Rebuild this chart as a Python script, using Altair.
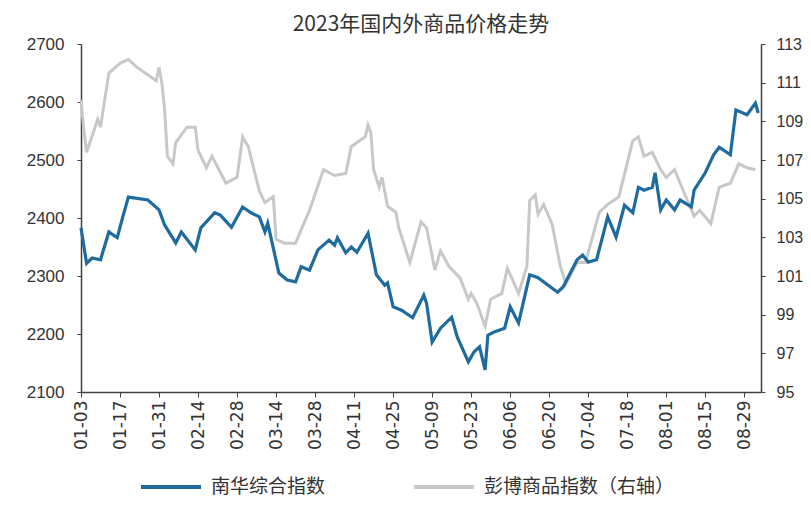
import altair as alt
import pandas as pd

title_text = "2023年国内外商品价格走势"
series_names = ["南华综合指数", "彭博商品指数（右轴）"]
series_colors = ["#1f6b9e", "#c8c8c8"]

# 南华综合指数 (left axis)
nanhua_dates = [
    "2023-01-03", "2023-01-05", "2023-01-07", "2023-01-10", "2023-01-13", "2023-01-16",
    "2023-01-18", "2023-01-20", "2023-01-27", "2023-01-31", "2023-02-02", "2023-02-06",
    "2023-02-08", "2023-02-13", "2023-02-15", "2023-02-20", "2023-02-22", "2023-02-26",
    "2023-03-02", "2023-03-05", "2023-03-08", "2023-03-10", "2023-03-11", "2023-03-15",
    "2023-03-18", "2023-03-21", "2023-03-23", "2023-03-26", "2023-03-29", "2023-04-02",
    "2023-04-04", "2023-04-05", "2023-04-08", "2023-04-10", "2023-04-12", "2023-04-16",
    "2023-04-19", "2023-04-22", "2023-04-23", "2023-04-25", "2023-04-28", "2023-05-02",
    "2023-05-06", "2023-05-07", "2023-05-09", "2023-05-12", "2023-05-16", "2023-05-18",
    "2023-05-22", "2023-05-24", "2023-05-26", "2023-05-28", "2023-05-29", "2023-05-31",
    "2023-06-04", "2023-06-06", "2023-06-09", "2023-06-13", "2023-06-16", "2023-06-23",
    "2023-06-25", "2023-06-30", "2023-07-02", "2023-07-04", "2023-07-07", "2023-07-11",
    "2023-07-14", "2023-07-17", "2023-07-20", "2023-07-22", "2023-07-24", "2023-07-27",
    "2023-07-28", "2023-07-30", "2023-08-01", "2023-08-04", "2023-08-06", "2023-08-10",
    "2023-08-11", "2023-08-15", "2023-08-18", "2023-08-20", "2023-08-24", "2023-08-26",
    "2023-08-30", "2023-09-02", "2023-09-03",
]
nanhua_values = [
    2383, 2322, 2331, 2328, 2376, 2366,
    2402, 2436, 2431, 2414, 2388, 2357,
    2376, 2345, 2383, 2409, 2405, 2384,
    2419, 2409, 2402, 2376, 2391, 2305,
    2293, 2290, 2316, 2310, 2345, 2362,
    2353, 2366, 2340, 2350, 2341, 2374,
    2302, 2284, 2288, 2247, 2241, 2228,
    2267, 2253, 2186, 2210, 2229, 2195,
    2152, 2169, 2178, 2138, 2198, 2203,
    2210, 2247, 2219, 2302, 2297, 2272,
    2281, 2328, 2336, 2324, 2328, 2402,
    2367, 2422, 2409, 2453, 2448, 2453,
    2478, 2414, 2431, 2414, 2431, 2419,
    2448, 2478, 2509, 2522, 2509, 2586,
    2578, 2598, 2581,
]

# 彭博商品指数 (right axis)
bcom_dates = [
    "2023-01-03", "2023-01-04", "2023-01-05", "2023-01-09", "2023-01-10", "2023-01-13",
    "2023-01-17", "2023-01-20", "2023-01-23", "2023-01-30", "2023-01-31", "2023-02-01",
    "2023-02-02", "2023-02-03", "2023-02-05", "2023-02-06", "2023-02-10", "2023-02-13",
    "2023-02-14", "2023-02-17", "2023-02-19", "2023-02-24", "2023-02-28", "2023-03-02",
    "2023-03-04", "2023-03-08", "2023-03-10", "2023-03-13", "2023-03-14", "2023-03-17",
    "2023-03-21", "2023-03-23", "2023-03-26", "2023-03-31", "2023-04-04", "2023-04-08",
    "2023-04-10", "2023-04-15", "2023-04-16", "2023-04-17", "2023-04-18", "2023-04-20",
    "2023-04-21", "2023-04-23", "2023-04-26", "2023-04-27", "2023-05-01", "2023-05-05",
    "2023-05-07", "2023-05-10", "2023-05-12", "2023-05-15", "2023-05-19", "2023-05-22",
    "2023-05-23", "2023-05-25", "2023-05-28", "2023-05-30", "2023-06-03", "2023-06-05",
    "2023-06-09", "2023-06-12", "2023-06-13", "2023-06-15", "2023-06-16", "2023-06-18",
    "2023-06-21", "2023-06-24", "2023-06-26", "2023-06-30", "2023-07-03", "2023-07-08",
    "2023-07-11", "2023-07-15", "2023-07-20", "2023-07-22", "2023-07-24", "2023-07-27",
    "2023-07-30", "2023-08-01", "2023-08-04", "2023-08-06", "2023-08-11", "2023-08-13",
    "2023-08-17", "2023-08-20", "2023-08-24", "2023-08-27", "2023-08-30", "2023-09-02",
]
bcom_values = [
    110.1, 108.6, 107.4, 109.1, 108.7, 111.5,
    112.0, 112.2, 111.8, 111.1, 111.8, 111.0,
    109.6, 107.2, 106.8, 107.9, 108.7, 108.7,
    107.5, 106.6, 107.2, 105.8, 106.1, 108.2,
    107.7, 105.4, 104.8, 105.1, 102.9, 102.7,
    102.7, 103.4, 104.4, 106.5, 106.2, 106.3,
    107.7, 108.2, 108.8, 108.4, 106.5, 105.6,
    106.1, 104.6, 104.3, 103.5, 101.7, 103.8,
    103.5, 101.3, 102.3, 101.5, 100.9, 99.8,
    100.1, 99.6, 98.4, 99.8, 100.1, 101.4,
    100.1, 101.5, 104.9, 105.2, 104.2, 104.7,
    103.7, 101.5, 100.6, 101.7, 101.7, 104.3,
    104.7, 105.1, 108.0, 108.2, 107.2, 107.4,
    106.5, 106.1, 106.5, 105.8, 104.1, 104.4,
    103.7, 105.6, 105.8, 106.8, 106.6, 106.5,
]

x_tick_dates = [
    "2023-01-03", "2023-01-17", "2023-01-31", "2023-02-14", "2023-02-28", "2023-03-14",
    "2023-03-28", "2023-04-11", "2023-04-25", "2023-05-09", "2023-05-23", "2023-06-06",
    "2023-06-20", "2023-07-04", "2023-07-18", "2023-08-01", "2023-08-15", "2023-08-29",
]
x_domain = ["2023-01-03", "2023-09-04"]
left_ticks = [2100, 2200, 2300, 2400, 2500, 2600, 2700]
right_ticks = [95, 97, 99, 101, 103, 105, 107, 109, 111, 113]


def to_dt(s):
    y, m, d = (int(p) for p in s.split("-"))
    return alt.DateTime(year=y, month=m, date=d, utc=True)


df = pd.concat(
    [
        pd.DataFrame({"date": nanhua_dates, "value": nanhua_values, "series": series_names[0]}),
        pd.DataFrame({"date": bcom_dates, "value": bcom_values, "series": series_names[1]}),
    ],
    ignore_index=True,
)

axis_color = "#404040"
label_color = "#333333"
num_font = "Liberation Sans"
cjk_font = "Noto Sans CJK SC"

x_enc = alt.X(
    "date:T",
    scale=alt.Scale(type="utc", domain=[to_dt(s) for s in x_domain]),
    axis=alt.Axis(
        values=[to_dt(s) for s in x_tick_dates],
        format="%m-%d",
        labelAngle=-90,
        labelFont="DejaVu Sans",
        labelFontSize=17,
        labelColor=label_color,
        labelPadding=3,
        tickSize=5,
        tickColor=axis_color,
        domainColor=axis_color,
        domainWidth=1.5,
        grid=False,
        title=None,
        labelOverlap=False,
    ),
)

color_enc = alt.Color(
    "series:N",
    scale=alt.Scale(domain=series_names, range=series_colors),
    legend=alt.Legend(
        title=None,
        orient="none",
        legendX=58,
        legendY=411,
        direction="horizontal",
        symbolType="stroke",
        symbolSize=3600,
        symbolStrokeWidth=4,
        labelFont=cjk_font,
        labelFontSize=19,
        labelColor=label_color,
        labelOffset=8,
        columnPadding=80,
        labelLimit=400,
    ),
)

base = alt.Chart(df)

left = base.transform_filter(alt.datum.series == series_names[0]).mark_line(strokeWidth=3.2).encode(
    x=x_enc,
    y=alt.Y(
        "value:Q",
        scale=alt.Scale(domain=[left_ticks[0], left_ticks[-1]], nice=False, zero=False),
        axis=alt.Axis(
            orient="left",
            values=left_ticks,
            format="d",
            labelFont=num_font,
            labelFontSize=17,
            labelColor=label_color,
            labelPadding=13,
            tickSize=4,
            tickColor=axis_color,
            domainColor=axis_color,
            domainWidth=1.5,
            grid=False,
            title=None,
        ),
    ),
    color=color_enc,
)

right = base.transform_filter(alt.datum.series == series_names[1]).mark_line(strokeWidth=3).encode(
    x=x_enc,
    y=alt.Y(
        "value:Q",
        scale=alt.Scale(domain=[right_ticks[0], right_ticks[-1]], nice=False, zero=False),
        axis=alt.Axis(
            orient="right",
            values=right_ticks,
            format="d",
            labelFont=num_font,
            labelFontSize=16,
            labelColor=label_color,
            labelPadding=11,
            tickSize=4,
            tickColor=axis_color,
            domainColor=axis_color,
            domainWidth=1.5,
            grid=False,
            title=None,
        ),
    ),
    color=color_enc,
)

chart = (
    alt.layer(right, left)
    .resolve_scale(y="independent")
    .properties(
        width=680,
        height=348,
        autosize=alt.AutoSizeParams(type="none"),
        padding={"left": 73, "top": 36, "right": 42, "bottom": 106},
        title=alt.TitleParams(
            text=title_text,
            font=cjk_font,
            fontSize=21,
            fontWeight="normal",
            color=label_color,
            anchor="middle",
            offset=0,
        ),
        background="white",
    )
    .configure_view(stroke=None)
)

chart.save("out.html", embed_options={"renderer": "svg", "actions": False})
